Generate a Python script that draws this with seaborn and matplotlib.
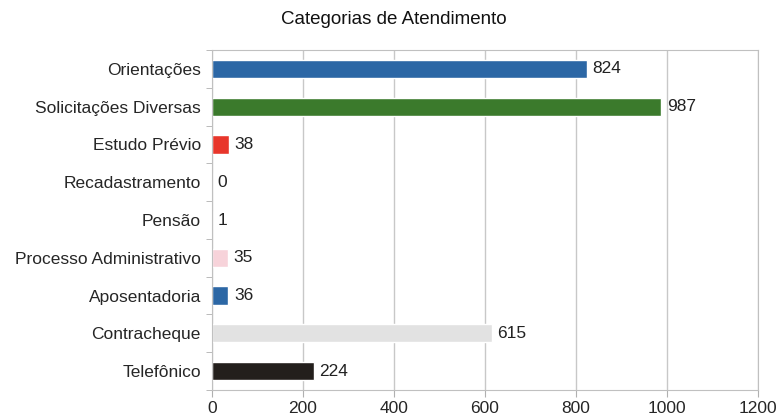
import pandas as pd
import seaborn as sns
import matplotlib.pyplot as plt
import numpy as np

# dados do gráfico
categorias = ["Orientações", "Solicitações Diversas", "Estudo Prévio", "Recadastramento",
              "Pensão", "Processo Administrativo", "Aposentadoria", "Contracheque", "Telefônico"]
valores = [824, 987, 38, 0, 1, 35, 36, 615, 224]
cores = ["#2c67a5", "#3b7a2c", "#e8362b", "#2c67a5", "#2c67a5",
         "#f7d3da", "#2c67a5", "#e2e2e2", "#231f1c"]

df = pd.DataFrame({"categoria": categorias, "valor": valores})

sns.set_style("white")
plt.rcParams['font.family'] = ['Liberation Sans', 'DejaVu Sans']

fig = plt.figure(figsize=(7.79, 4.19), dpi=100)
ax = fig.add_axes([212 / 779, 29 / 419, 546 / 779, 340 / 419])

sns.barplot(data=df, x="valor", y="categoria", hue="categoria",
            palette=dict(zip(categorias, cores)), legend=False,
            width=0.48, saturation=1, ax=ax)

for c in ax.containers:
    ax.bar_label(c, padding=4, fontsize=12.5, color="#222222")

ax.set_xlim(0, 1200)
ax.set_xticks(np.arange(0, 1201, 200))
ax.set_ylim(len(categorias) - 0.5, -0.5)
ax.set_yticks(np.arange(-0.5, len(categorias), 1), minor=True)
ax.tick_params(axis="y", which="major", length=0, pad=8, labelsize=12.5)
ax.tick_params(axis="y", which="minor", length=4, color="#b0b0b0", left=True)
ax.tick_params(axis="x", length=5, color="#b0b0b0", labelsize=12.5, bottom=True, pad=3)
ax.xaxis.grid(True, color="#c8c8c8", linewidth=1)
ax.set_axisbelow(True)
for s in ax.spines.values():
    s.set_color("#c0c0c0")
ax.set_xlabel("")
ax.set_ylabel("")
fig.text(394 / 779, 1 - 20 / 419, "Categorias de Atendimento", fontsize=13.5,
         ha="center", va="center", color="#111111")

plt.savefig("out.png", dpi=100)
